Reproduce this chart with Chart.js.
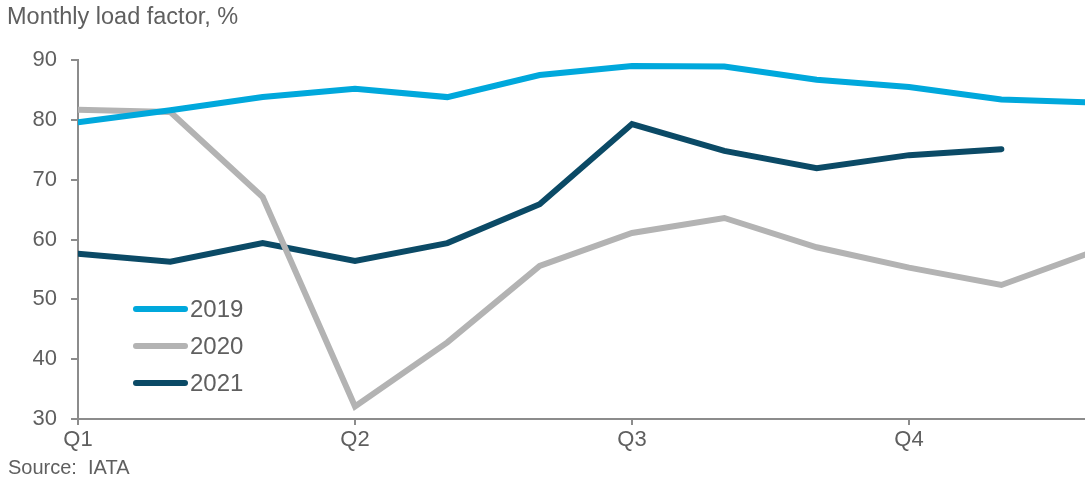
<!DOCTYPE html>
<html>
<head>
<meta charset="utf-8">
<script src="https://cdn.jsdelivr.net/npm/chart.js@4/dist/chart.umd.min.js"></script>
<style>
  body { margin: 0; background: #fff; font-family: "Liberation Sans", Arial, sans-serif; color: #5f5f5f; }
  #wrap { position: relative; width: 1085px; height: 485px; overflow: hidden; }
  #title { position: absolute; left: 7px; top: 3px; font-size: 23.5px; }
  #source { position: absolute; left: 8px; top: 456px; font-size: 20px; }
  #legend { position: absolute; left: 133px; top: 290px; font-size: 24px; }
  .item { display: flex; align-items: center; height: 37px; }
  .swatch { width: 55px; height: 6px; border-radius: 3px; margin-right: 2px; }
</style>
</head>
<body>
<div id="wrap">
  <canvas id="chart" width="1085" height="485"></canvas>
  <div id="title">Monthly load factor, %</div>
  <div id="source">Source:&nbsp; IATA</div>
  <div id="legend"></div>
</div>
<script>
const months = ['Jan', 'Feb', 'Mar', 'Apr', 'May', 'Jun', 'Jul', 'Aug', 'Sep', 'Oct', 'Nov', 'Dec'];
const quarterLabels = ['Q1', 'Q2', 'Q3', 'Q4'];
const seriesNames = ['2019', '2020', '2021'];
const colors = ['#00a8dc', '#b3b3b3', '#0b4a66'];

const lf2019 = [79.6, 81.6, 83.8, 85.2, 83.8, 87.5, 89.0, 88.9, 86.7, 85.5, 83.4, 82.9];
const lf2020 = [81.7, 81.3, 67.1, 32.1, 42.8, 55.6, 61.1, 63.6, 58.7, 55.3, 52.4, 58.0];
const lf2021 = [57.6, 56.3, 59.4, 56.4, 59.4, 65.9, 79.3, 74.8, 71.9, 74.1, 75.1];

const allSeries = [lf2019, lf2020, lf2021];

const datasets = allSeries.map((vals, i) => ({
  label: seriesNames[i],
  data: vals.map((v, m) => ({ x: m, y: v })),
  borderColor: colors[i],
  backgroundColor: colors[i],
  borderWidth: 6,
  pointRadius: 0,
  tension: 0,
  borderCapStyle: 'round'
}));

// legend built from the same arrays
const legend = document.getElementById('legend');
seriesNames.forEach((name, i) => {
  legend.innerHTML += `<div class="item"><div class="swatch" style="background:${colors[i]}"></div>${name}</div>`;
});

const axisColor = '#8c8c8c';
const tickFont = { family: '"Liberation Sans", Arial, sans-serif', size: 22 };

new Chart(document.getElementById('chart'), {
  type: 'line',
  data: { datasets },
  options: {
    responsive: false,
    animation: false,
    layout: { padding: { top: 60, left: 0, right: 0, bottom: 0 } },
    plugins: { legend: { display: false }, tooltip: { enabled: false } },
    scales: {
      x: {
        type: 'linear',
        min: 0,
        max: 10.906,
        afterBuildTicks: s => { s.ticks = [0, 3, 6, 9].map(v => ({ value: v })); },
        afterFit: s => { s.height = 66; },
        grid: { drawOnChartArea: false, drawTicks: true, tickLength: 6, color: axisColor, lineWidth: 2 },
        border: { display: true, color: axisColor, width: 2 },
        ticks: {
          color: '#5f5f5f',
          font: tickFont,
          padding: 2,
          maxRotation: 0,
          autoSkip: false,
          callback: v => quarterLabels[v / 3]
        }
      },
      y: {
        min: 30,
        max: 90,
        afterFit: s => { s.width = 78; },
        grid: { drawOnChartArea: false, drawTicks: true, tickLength: 7, color: axisColor, lineWidth: 2 },
        border: { display: true, color: axisColor, width: 2 },
        ticks: { stepSize: 10, color: '#5f5f5f', font: tickFont, padding: 14 }
      }
    }
  }
});
</script>
</body>
</html>
